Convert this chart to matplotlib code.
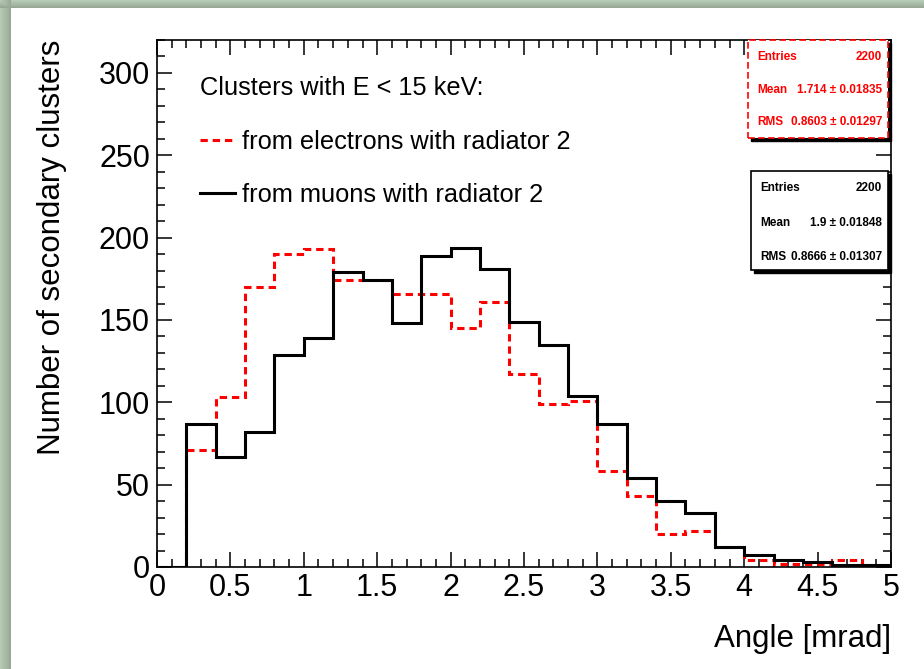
import numpy as np
import matplotlib
matplotlib.use("Agg")
import matplotlib.pyplot as plt
from matplotlib.patches import Rectangle
from matplotlib.lines import Line2D
from matplotlib.ticker import MultipleLocator

plt.rcParams["font.family"] = ["Liberation Sans", "DejaVu Sans"]

# ------------------------------------------------------------------
# DATA (0.2 mrad bins)
# ------------------------------------------------------------------
bin_edges = [0.0, 0.2, 0.4, 0.6, 0.8, 1.0, 1.2, 1.4, 1.6, 1.8, 2.0, 2.2, 2.4,
             2.6, 2.8, 3.0, 3.2, 3.4, 3.6, 3.8, 4.0, 4.2, 4.4, 4.6, 4.8, 5.0]
electrons = [0, 71, 103, 170, 190, 193, 174, 174, 166, 166, 145, 161, 117,
             99, 101, 58, 43, 20, 22, 12, 4, 2, 2, 4, 1]
muons = [0, 87, 67, 82, 129, 139, 179, 174, 148, 189, 194, 181, 149,
         135, 104, 87, 54, 40, 33, 12, 7, 4, 3, 1, 1]

legend_title = "Clusters with E < 15 keV:"
label_e = "from electrons with radiator 2"
label_mu = "from muons with radiator 2"

stats_e = [("Entries", "2200"), ("Mean", "1.714 \u00b1 0.01835"), ("RMS", "0.8603 \u00b1 0.01297")]
stats_mu = [("Entries", "2200"), ("Mean", "1.9 \u00b1 0.01848"), ("RMS", "0.8666 \u00b1 0.01307")]

# ------------------------------------------------------------------
# FIGURE
# ------------------------------------------------------------------
W, H = 924, 669
fig = plt.figure(figsize=(W / 100, H / 100), dpi=100)
fig.patch.set_facecolor("white")

# greenish frame on top and left (slide border)
n = 10
for i in range(n):
    c = np.array([0.72, 0.80, 0.71]) * (1 - 0.2 * i / n)
    fig.add_artist(Rectangle((i * 11 / n / W, 0), 11 / n / W, 1, transform=fig.transFigure,
                             facecolor=c, edgecolor="none", zorder=0))
    fig.add_artist(Rectangle((0, 1 - (i + 1) * 8 / n / H), 1, 8 / n / H, transform=fig.transFigure,
                             facecolor=c, edgecolor="none", zorder=0))

ax = fig.add_axes([157 / W, 1 - 567 / H, (891 - 157) / W, (567 - 40) / H])

ax.stairs(electrons, bin_edges, color="red", lw=2.2, linestyle=(0, (2.4, 1.6)), zorder=3)
ax.stairs(muons, bin_edges, color="black", lw=2.2, zorder=4)

ax.set_xlim(0, 5)
ax.set_ylim(0, 320)
ax.xaxis.set_major_locator(MultipleLocator(0.5))
ax.xaxis.set_minor_locator(MultipleLocator(0.1))
ax.yaxis.set_major_locator(MultipleLocator(50))
ax.yaxis.set_minor_locator(MultipleLocator(10))
ax.set_xticks(np.arange(0, 5.01, 0.5))
ax.set_xticklabels(["0", "0.5", "1", "1.5", "2", "2.5", "3", "3.5", "4", "4.5", "5"])
ax.tick_params(which="both", direction="in", top=True, right=True, width=1.1, labelsize=22)
ax.tick_params(which="major", length=11)
ax.tick_params(which="minor", length=6)
ax.tick_params(axis="x", pad=4)
ax.tick_params(axis="y", pad=5)
for s in ax.spines.values():
    s.set_linewidth(1.2)

ax.set_xlabel("Angle [mrad]", fontsize=22.5, loc="right")
ax.xaxis.set_label_coords(1.0, -0.108)
ax.set_ylabel("Number of secondary clusters", fontsize=22.5, loc="top")
ax.yaxis.set_label_coords(-0.122, 1.0)

# legend
handles = [Line2D([], [], color="red", lw=2.2, linestyle=(0, (2.4, 1.6))),
           Line2D([], [], color="black", lw=2.2)]
leg = ax.legend(handles, [label_e, label_mu], title=legend_title, loc="upper left",
                bbox_to_anchor=(0.058, 0.932), frameon=False, fontsize=18.3,
                title_fontsize=18.3, alignment="left", borderpad=0, borderaxespad=0,
                handlelength=1.4, handletextpad=0.25, labelspacing=1.17)


# stat boxes
def stat_box(x0, y0, x1, y1, rows, color, ls, row_y):
    # shadow
    ax.add_patch(Rectangle((x0 + 0.004, y0 - 0.006), x1 - x0, y1 - y0, transform=ax.transAxes,
                           facecolor="black", edgecolor="black", lw=1, zorder=5, clip_on=False))
    ax.add_patch(Rectangle((x0, y0), x1 - x0, y1 - y0, transform=ax.transAxes,
                           facecolor="white", edgecolor=color, lw=1.2, linestyle=ls,
                           zorder=6, clip_on=False))
    for (k, v), yy in zip(rows, row_y):
        ax.text(x0 + 0.012, yy, k, transform=ax.transAxes, color=color, fontsize=8.5,
                fontweight="bold", ha="left", va="center", zorder=7)
        ax.text(x1 - 0.008, yy, v, transform=ax.transAxes, color=color, fontsize=8.5,
                fontweight="bold", ha="right", va="center", zorder=7)


def ay(py):
    return (567 - py) / 527


stat_box((748 - 157) / 734, ay(138), 0.996, ay(40), stats_e, "red", (0, (4, 2)),
         [ay(57), ay(90), ay(122)])
stat_box((751 - 157) / 734, ay(270), 0.996, ay(171), stats_mu, "black", "-",
         [ay(188), ay(223), ay(257)])

fig.savefig("out.png", dpi=100)
